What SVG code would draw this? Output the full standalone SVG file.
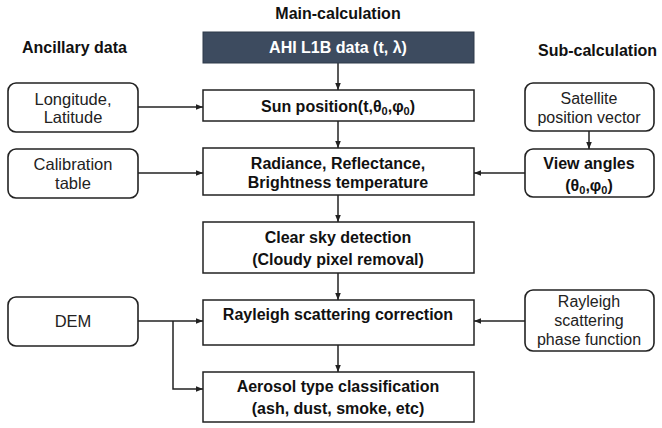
<svg xmlns="http://www.w3.org/2000/svg" width="662" height="428" viewBox="0 0 662 428">
<defs>
<marker id="ah" viewBox="0 0 10 10" refX="10" refY="5" markerWidth="7" markerHeight="7" markerUnits="userSpaceOnUse" orient="auto">
<path d="M0,1 L10,5 L0,9 Z" fill="#222"/>
</marker>
<style>
.box{fill:#fff;stroke:#222;stroke-width:1.5}
.rbox{fill:#fff;stroke:#222;stroke-width:1.6}
.b{font-family:"Liberation Sans",Arial,sans-serif;font-weight:bold;font-size:16px;fill:#111;text-anchor:middle}
.r{font-family:"Liberation Sans",Arial,sans-serif;font-size:16px;fill:#222;text-anchor:middle}
.h{font-family:"Liberation Sans",Arial,sans-serif;font-weight:bold;font-size:16px;fill:#111}
.c{fill:none;stroke:#222;stroke-width:1.5}
.sub{font-size:11px}
</style>
</defs>
<rect width="662" height="428" fill="#fff"/>
<text class="h" x="338" y="19" text-anchor="middle">Main-calculation</text>
<text class="h" x="22" y="53">Ancillary data</text>
<text class="h" x="538" y="56">Sub-calculation</text>

<g id="connectors">
<line class="c" x1="338" y1="63" x2="338" y2="90" marker-end="url(#ah)"/>
<line class="c" x1="338" y1="121" x2="338" y2="148" marker-end="url(#ah)"/>
<line class="c" x1="338" y1="195" x2="338" y2="222" marker-end="url(#ah)"/>
<line class="c" x1="338" y1="273" x2="338" y2="300" marker-end="url(#ah)"/>
<line class="c" x1="338" y1="345" x2="338" y2="372" marker-end="url(#ah)"/>
<line class="c" x1="138" y1="107" x2="203" y2="107" marker-end="url(#ah)"/>
<line class="c" x1="138" y1="173" x2="203" y2="173" marker-end="url(#ah)"/>
<line class="c" x1="525" y1="173" x2="474" y2="173" marker-end="url(#ah)"/>
<line class="c" x1="589" y1="131" x2="589" y2="149" marker-end="url(#ah)"/>
<line class="c" x1="138" y1="321" x2="203" y2="321" marker-end="url(#ah)"/>
<polyline class="c" points="173,321 173,389 203,389" marker-end="url(#ah)"/>
<line class="c" x1="525" y1="321" x2="474" y2="321" marker-end="url(#ah)"/>
</g>

<g id="ahi">
<rect x="203" y="32" width="271" height="31" fill="#3d4b5f" stroke="#2e3a4b" stroke-width="1"/>
<text class="b" x="338" y="53" style="fill:#fff">AHI L1B data (t, λ)</text>
</g>
<g id="sun">
<rect class="box" x="203" y="90" width="271" height="31"/>
<text class="b" x="338" y="112">Sun position(t,θ<tspan class="sub" dy="3">0</tspan><tspan dy="-3">,φ</tspan><tspan class="sub" dy="3">0</tspan><tspan dy="-3">)</tspan></text>
</g>
<g id="radiance">
<rect class="box" x="203" y="148" width="271" height="47"/>
<text class="b" x="338" y="169">Radiance, Reflectance,</text>
<text class="b" x="338" y="188">Brightness temperature</text>
</g>
<g id="clearsky">
<rect class="box" x="203" y="222" width="271" height="51"/>
<text class="b" x="338" y="243">Clear sky detection</text>
<text class="b" x="338" y="265">(Cloudy pixel removal)</text>
</g>
<g id="rayleigh">
<rect class="box" x="203" y="300" width="271" height="45"/>
<text class="b" x="338" y="320">Rayleigh scattering correction</text>
</g>
<g id="aerosol">
<rect class="box" x="203" y="372" width="271" height="50"/>
<text class="b" x="338" y="392">Aerosol type classification</text>
<text class="b" x="338" y="414">(ash, dust, smoke, etc)</text>
</g>

<g id="lonlat">
<rect class="rbox" x="8" y="83" width="130" height="49" rx="8"/>
<text class="r" x="73" y="105" style="font-size:16.5px">Longitude,</text>
<text class="r" x="73" y="123" style="font-size:16.5px">Latitude</text>
</g>
<g id="calib">
<rect class="rbox" x="8" y="149" width="130" height="49" rx="8"/>
<text class="r" x="73" y="170" style="font-size:16.5px">Calibration</text>
<text class="r" x="73" y="189" style="font-size:16.5px">table</text>
</g>
<g id="dem">
<rect class="rbox" x="8" y="297" width="130" height="49" rx="8"/>
<text class="r" x="73" y="327" style="font-size:16.5px">DEM</text>
</g>
<g id="satellite">
<rect class="rbox" x="525" y="83" width="129" height="48" rx="8"/>
<text class="r" x="589" y="104">Satellite</text>
<text class="r" x="589" y="123">position vector</text>
</g>
<g id="viewangles">
<rect class="rbox" x="525" y="149" width="129" height="48" rx="8"/>
<text class="b" x="589" y="169">View angles</text>
<text class="b" x="589" y="191">(θ<tspan class="sub" dy="3">0</tspan><tspan dy="-3">,φ</tspan><tspan class="sub" dy="3">0</tspan><tspan dy="-3">)</tspan></text>
</g>
<g id="phase">
<rect class="rbox" x="525" y="290" width="129" height="61" rx="8"/>
<text class="r" x="589" y="307">Rayleigh</text>
<text class="r" x="589" y="326">scattering</text>
<text class="r" x="589" y="345">phase function</text>
</g>
</svg>
